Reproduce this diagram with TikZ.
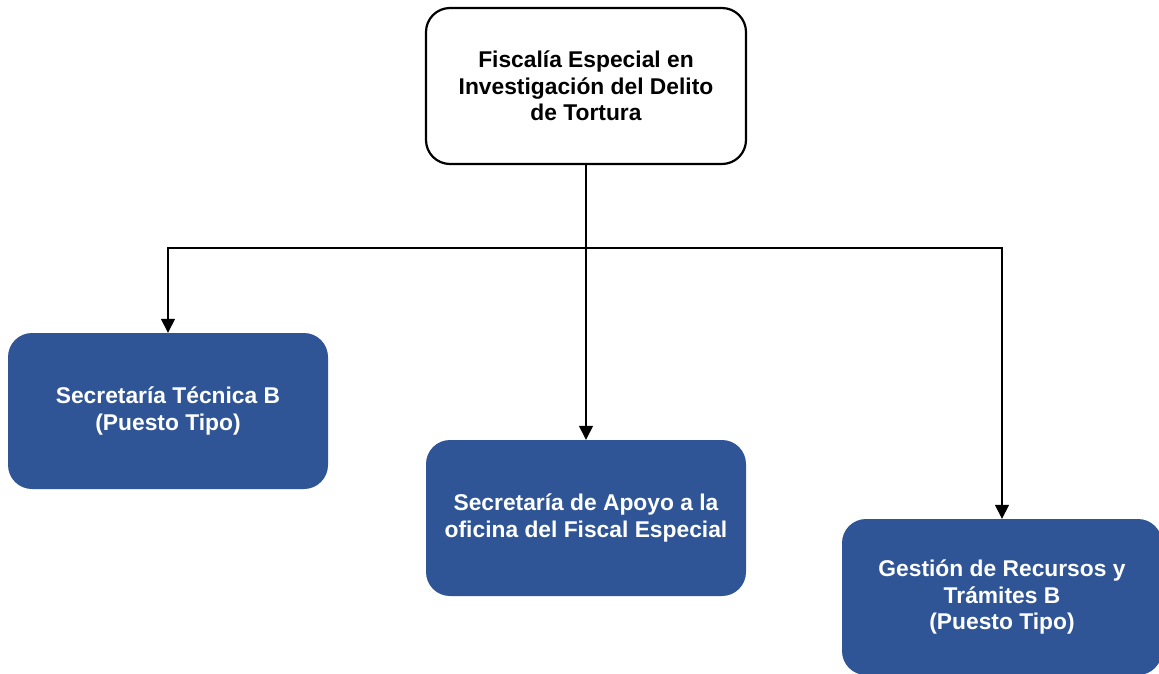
\documentclass[tikz,border=0pt]{standalone}
\usepackage{fontspec}
\setmainfont{Liberation Sans}
\usetikzlibrary{arrows.meta}
\definecolor{unitblue}{HTML}{2F5597}
\tikzset{
  >={Triangle[length=14pt,width=14pt]},
}
\tikzstyle{link}=[line width=1.4pt,->]
\tikzstyle{box}=[rounded corners=24pt,minimum width=320pt,minimum height=156pt,
  align=center,font=\fontsize{22.8}{26.5}\selectfont\bfseries]
\tikzstyle{boss}=[box,draw=black,line width=2.2pt,fill=white]
\tikzstyle{unit}=[box,fill=unitblue,text=white]

\begin{document}
\begin{tikzpicture}[x=1pt,y=-1pt]
    \useasboundingbox (0,0) rectangle (1159,673);
    \node[boss] (fiscalia) at (586,86)
      {Fiscalía Especial en\\Investigación del Delito\\de Tortura};
    \node[unit] (tecnica) at (168,411) {Secretaría Técnica B\\(Puesto Tipo)};
    \node[unit] (apoyo) at (586,518) {Secretaría de Apoyo a la\\oficina del Fiscal Especial};
    \node[unit] (gestion) at (1002,597) {Gestión de Recursos y\\Trámites B\\(Puesto Tipo)};
    \coordinate (bus) at (586,248);
    \draw[link] (fiscalia) -- (apoyo);
    \draw[link] (bus) -| (tecnica);
    \draw[link] (bus) -| (gestion);
  \end{tikzpicture}
\end{document}
